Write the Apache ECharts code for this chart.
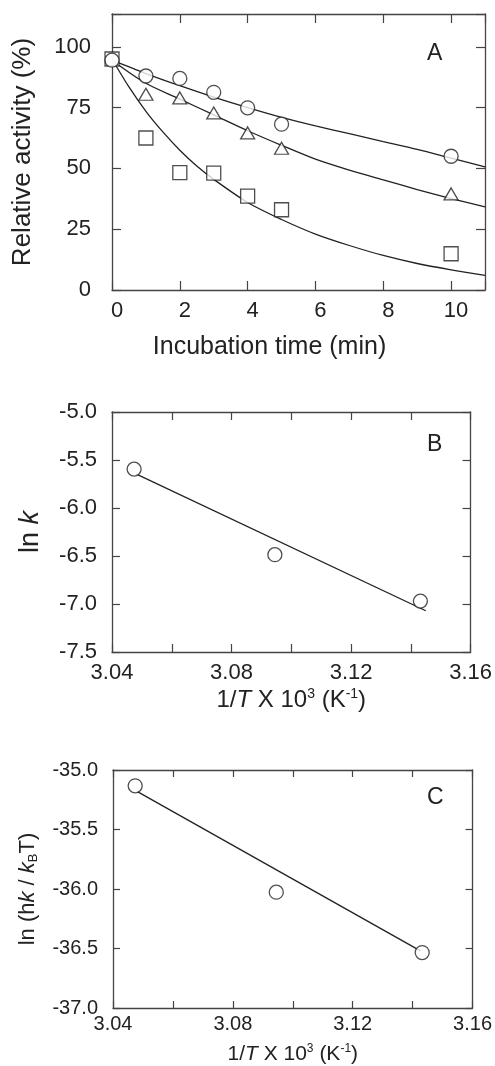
<!DOCTYPE html>
<html>
<head>
<meta charset="utf-8">
<script src="https://cdn.jsdelivr.net/npm/echarts@6/dist/echarts.min.js"></script>
<style>
html,body{margin:0;padding:0;background:#fff;}
#chart{width:495px;height:1066px;}
</style>
</head>
<body>
<div id="chart"></div>
<script>
// ---------- Panel A data ----------
const timeA = [0, 1, 2, 3, 4, 5, 10];
const circleA = [94.5, 88, 87, 81.3, 74.9, 68.2, 55];
const timeTriA = [1, 2, 3, 4, 5, 10];
const triangleA = [80.5, 79, 72.8, 64.6, 58.3, 39.5];
const squareA = [95, 62.5, 48.3, 48.1, 38.6, 33, 14.9];

const fitTimeA = [0, 1, 2, 3, 4, 5, 6, 7, 8, 9, 10, 11];
const circleFitA = [94.5, 89, 84, 79.3, 75, 71, 67.5, 64.3, 61, 57.8, 54.2, 50.6];
const triangleFitA = [94.5, 85, 78.5, 72, 65.5, 59.5, 53.8, 49.3, 45.3, 41.3, 37.6, 34.2];
const fitTimeSqA = [0, 0.5, 1, 1.5, 2, 2.5, 3, 4, 5, 6, 7, 8, 9, 10, 11];
const squareFitA = [95, 83.5, 73.5, 65, 57.5, 51, 45.5, 36, 29, 23, 18.3, 14.2, 10.9, 8.3, 6];

// ---------- Panel B data ----------
const invT = [3.0474, 3.0945, 3.1432];
const lnK = [-5.595, -6.486, -6.97];
const fitInvTB = [3.048, 3.145];
const fitLnK = [-5.645, -7.07];

// ---------- Panel C data ----------
const lnHk = [-35.133, -36.027, -36.534];
const fitInvTC = [3.048, 3.1426];
const fitLnHk = [-35.18, -36.52];

const FONT = 'Liberation Sans';
const TXT = '#222';
const AX = '#444';

function zip(xs, ys) { return xs.map((x, i) => [x, ys[i]]); }

function axisCommon(tickLen, extra) {
  return Object.assign({
    axisLine: { show: true, onZero: false, lineStyle: { color: AX, width: 1.3 } },
    axisTick: { show: true, inside: true, length: tickLen, lineStyle: { color: AX, width: 1.2 } },
    splitLine: { show: false },
  }, extra);
}

const hidden = { show: false };

const xAxis = [
  // A bottom
  axisCommon(9, { gridIndex: 0, type: 'value', min: 0, max: 11, interval: 2, position: 'bottom',
    axisLabel: { fontFamily: FONT, fontSize: 22, color: TXT, margin: 10, padding: [0, 0, 0, 10],
      formatter: v => (v % 2 === 0 ? String(v) : '') },
    name: 'Incubation time (min)', nameLocation: 'middle', nameGap: 45,
    nameTextStyle: { fontFamily: FONT, fontSize: 25, color: TXT, padding: [0, 58, 0, 0] } }),
  axisCommon(9, { gridIndex: 0, type: 'value', min: 0, max: 11, interval: 2, position: 'top', axisLabel: hidden }),
  // B bottom
  axisCommon(8, { gridIndex: 1, type: 'value', min: 3.04, max: 3.16, interval: 0.02, position: 'bottom',
    axisLabel: { fontFamily: FONT, fontSize: 22, color: TXT, margin: 10,
      formatter: v => (Math.round(v * 100) % 4 === 0 ? v.toFixed(2) : '') },
    name: '{n|1/}{i|T}{n| X 10}{s|3}{n| (K}{s|-1}{n|)}', nameLocation: 'middle', nameGap: 35,
    nameTextStyle: { fontFamily: FONT, fontSize: 24, color: TXT,
      rich: {
        n: { fontFamily: FONT, fontSize: 24, color: TXT, lineHeight: 26 },
        i: { fontFamily: FONT, fontSize: 24, color: TXT, fontStyle: 'italic', lineHeight: 26 },
        s: { fontFamily: FONT, fontSize: 14, color: TXT, lineHeight: 14, verticalAlign: 'top' }
      } } }),
  axisCommon(8, { gridIndex: 1, type: 'value', min: 3.04, max: 3.16, interval: 0.02, position: 'top', axisLabel: hidden }),
  // C bottom
  axisCommon(7, { gridIndex: 2, type: 'value', min: 3.04, max: 3.16, interval: 0.02, position: 'bottom',
    axisLabel: { fontFamily: FONT, fontSize: 20, color: TXT, margin: 6,
      formatter: v => (Math.round(v * 100) % 4 === 0 ? v.toFixed(2) : '') },
    name: '{n|1/}{i|T}{n| X 10}{s|3}{n| (K}{s|-1}{n|)}', nameLocation: 'middle', nameGap: 35,
    nameTextStyle: { fontFamily: FONT, fontSize: 21, color: TXT,
      rich: {
        n: { fontFamily: FONT, fontSize: 21, color: TXT, lineHeight: 23 },
        i: { fontFamily: FONT, fontSize: 21, color: TXT, fontStyle: 'italic', lineHeight: 23 },
        s: { fontFamily: FONT, fontSize: 12, color: TXT, lineHeight: 12, verticalAlign: 'top' }
      } } }),
  axisCommon(7, { gridIndex: 2, type: 'value', min: 3.04, max: 3.16, interval: 0.02, position: 'top', axisLabel: hidden }),
];

const yAxis = [
  // A left
  axisCommon(9, { gridIndex: 0, type: 'value', min: 0, max: 113.5, interval: 25, position: 'left',
    axisLabel: { fontFamily: FONT, fontSize: 22, color: TXT, margin: 21,
      formatter: v => (v % 25 === 0 ? String(v) : '') },
    name: 'Relative activity (%)', nameLocation: 'middle', nameGap: 76, nameRotate: 90,
    nameTextStyle: { fontFamily: FONT, fontSize: 26, color: TXT } }),
  axisCommon(9, { gridIndex: 0, type: 'value', min: 0, max: 113.5, interval: 25, position: 'right', axisLabel: hidden }),
  // B left
  axisCommon(8, { gridIndex: 1, type: 'value', min: -7.5, max: -5.0, interval: 0.5, position: 'left',
    axisLabel: { fontFamily: FONT, fontSize: 22, color: TXT, margin: 15, formatter: v => v.toFixed(1) },
    name: '{n|ln }{i|k}', nameLocation: 'middle', nameGap: 68, nameRotate: 90,
    nameTextStyle: { fontFamily: FONT, fontSize: 27, color: TXT,
      rich: {
        n: { fontFamily: FONT, fontSize: 27, color: TXT },
        i: { fontFamily: FONT, fontSize: 27, color: TXT, fontStyle: 'italic' }
      } } }),
  axisCommon(8, { gridIndex: 1, type: 'value', min: -7.5, max: -5.0, interval: 0.5, position: 'right', axisLabel: hidden }),
  // C left
  axisCommon(7, { gridIndex: 2, type: 'value', min: -37.0, max: -35.0, interval: 0.5, position: 'left',
    axisLabel: { fontFamily: FONT, fontSize: 20, color: TXT, margin: 15, formatter: v => v.toFixed(1) },
    name: '{n|ln (h}{i|k}{n| / }{i|k}{b|B}{n|T)}', nameLocation: 'middle', nameGap: 73, nameRotate: 90,
    nameTextStyle: { fontFamily: FONT, fontSize: 22, color: TXT,
      rich: {
        n: { fontFamily: FONT, fontSize: 22, color: TXT, lineHeight: 24 },
        i: { fontFamily: FONT, fontSize: 22, color: TXT, fontStyle: 'italic', lineHeight: 24 },
        b: { fontFamily: FONT, fontSize: 13, color: TXT, lineHeight: 13, verticalAlign: 'bottom' }
      } } }),
  axisCommon(7, { gridIndex: 2, type: 'value', min: -37.0, max: -35.0, interval: 0.5, position: 'right', axisLabel: hidden }),
];

const lineStyle = { color: '#222', width: 1.3 };
const markStyle = { color: '#fff', borderColor: '#222', borderWidth: 1.3 };

function fitLine(xi, yi, data) {
  return { type: 'line', xAxisIndex: xi, yAxisIndex: yi, data: data, showSymbol: false, symbol: 'none',
    smooth: 0.3, lineStyle: lineStyle, silent: true, z: 2 };
}
function scatter(xi, yi, data, symbol, size) {
  return { type: 'scatter', xAxisIndex: xi, yAxisIndex: yi, data: data, symbol: symbol, symbolSize: size,
    itemStyle: markStyle, z: 3 };
}

const option = {
  animation: false,
  backgroundColor: '#fff',
  grid: [
    { left: 112, top: 14, width: 373, height: 276 },
    { left: 112, top: 412, width: 360, height: 240 },
    { left: 113, top: 770, width: 361, height: 241 },
  ],
  title: [
    { text: 'A', left: 427, top: 42, padding: 0, textStyle: { fontFamily: FONT, fontSize: 23, fontWeight: 'normal', color: TXT } },
    { text: 'B', left: 427, top: 433, padding: 0, textStyle: { fontFamily: FONT, fontSize: 23, fontWeight: 'normal', color: TXT } },
    { text: 'C', left: 427, top: 786, padding: 0, textStyle: { fontFamily: FONT, fontSize: 23, fontWeight: 'normal', color: TXT } },
  ],
  xAxis: xAxis,
  yAxis: yAxis,
  series: [
    fitLine(0, 0, zip(fitTimeA, circleFitA)),
    fitLine(0, 0, zip(fitTimeA, triangleFitA)),
    fitLine(0, 0, zip(fitTimeSqA, squareFitA)),
    scatter(0, 0, zip(timeTriA, triangleA), 'triangle', [14, 12]),
    scatter(0, 0, zip(timeA, squareA), 'rect', 14),
    scatter(0, 0, zip(timeA, circleA), 'circle', 14),
    Object.assign(fitLine(2, 2, zip(fitInvTB, fitLnK)), { smooth: false }),
    scatter(2, 2, zip(invT, lnK), 'circle', 14),
    Object.assign(fitLine(4, 4, zip(fitInvTC, fitLnHk)), { smooth: false }),
    scatter(4, 4, zip(invT, lnHk), 'circle', 14),
  ]
};

const chart = echarts.init(document.getElementById('chart'), null, { renderer: 'canvas' });
chart.setOption(option);
</script>
</body>
</html>
